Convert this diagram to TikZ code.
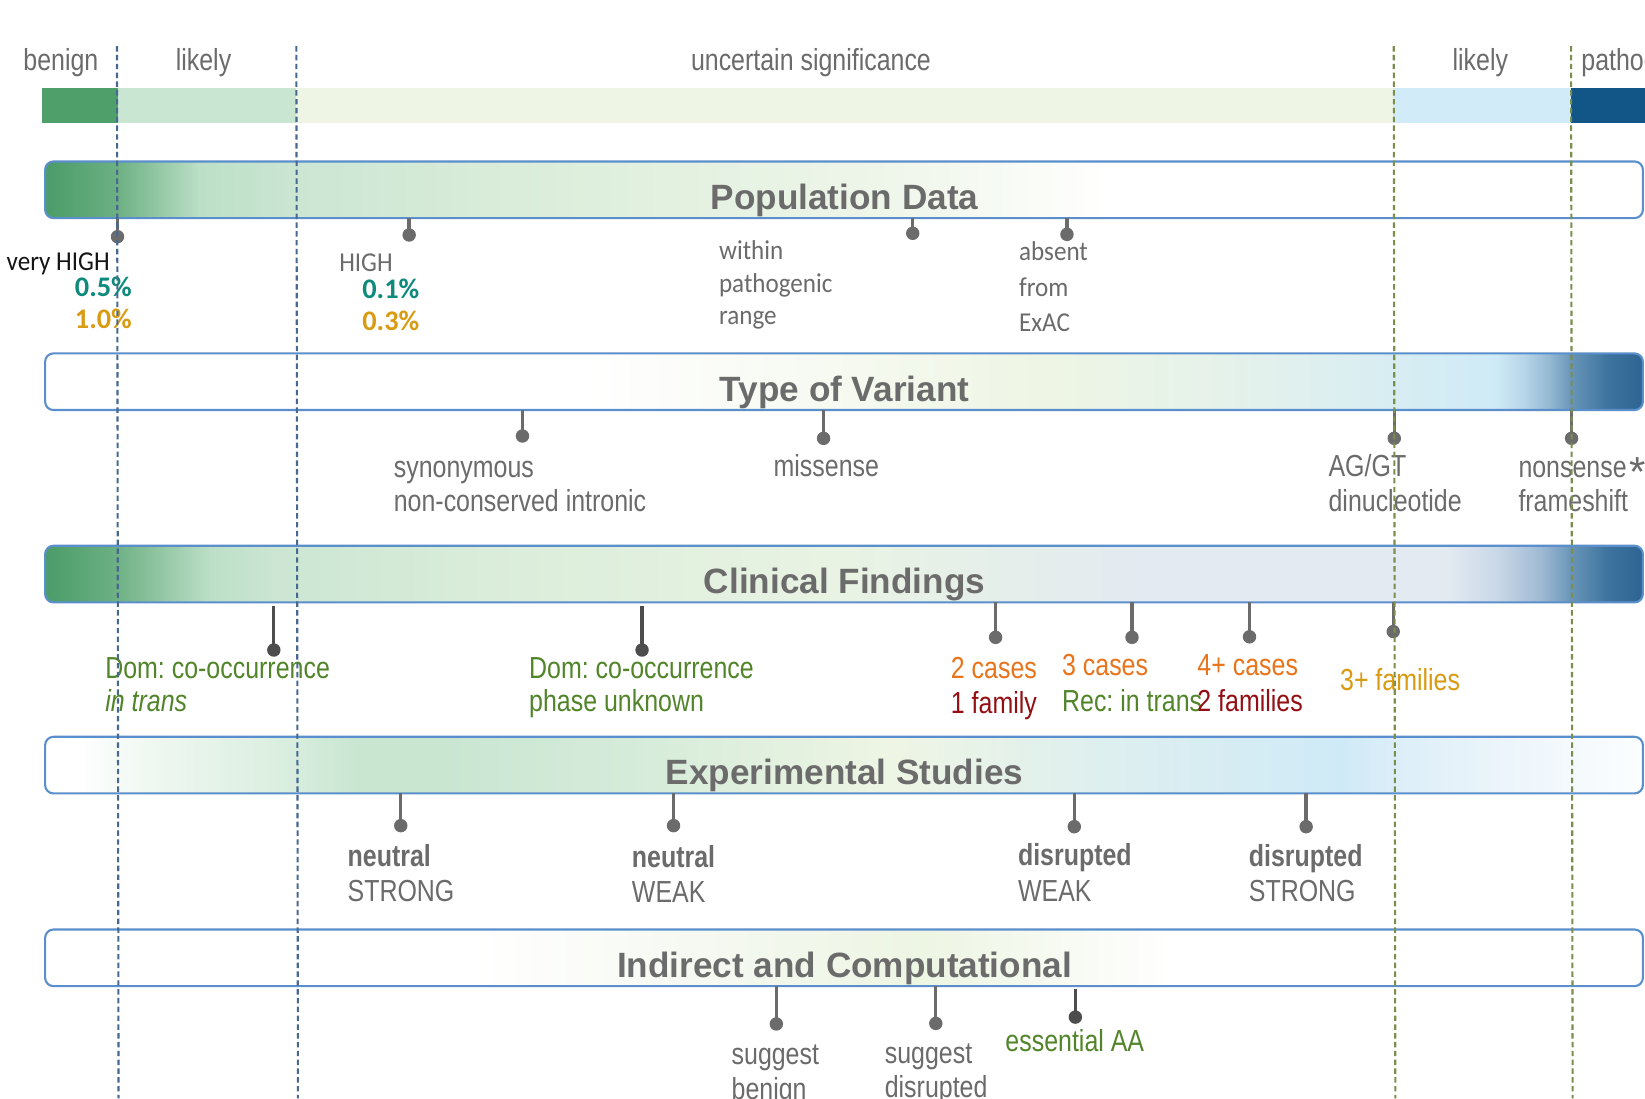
\documentclass[tikz,border=0pt]{standalone}
\usepackage{fontspec}
\setmainfont{Liberation Sans}
\newfontfamily\narrowf[FakeStretch=0.82]{Liberation Sans}
\newfontfamily\calf[FakeStretch=0.92]{Carlito}
\newfontfamily\calbf{Carlito}
\newfontfamily\ttlf{Liberation Sans}
\frenchspacing
\definecolor{txtgray}{HTML}{6B6B6B}
\definecolor{pingray}{HTML}{6B6B6B}
\definecolor{pindark}{HTML}{4D4D4D}
\definecolor{barblue}{HTML}{5B8FCC}
\definecolor{dashblue}{HTML}{47698F}
\definecolor{dashgreen}{HTML}{7A8F4E}
\definecolor{tealc}{HTML}{0D8A7B}
\definecolor{goldc}{HTML}{D89B12}
\definecolor{greenc}{HTML}{52852A}
\definecolor{orangec}{HTML}{E8741C}
\definecolor{redc}{HTML}{930F14}
% top bar
\definecolor{tbA}{HTML}{4E9F6A}
\definecolor{tbB}{HTML}{C8E6D1}
\definecolor{tbC}{HTML}{EEF5E5}
\definecolor{tbD}{HTML}{D1EBF8}
\definecolor{tbE}{HTML}{115687}
% gradient stops
\definecolor{gA}{HTML}{4A9C68}
\definecolor{gB}{HTML}{6CB083}
\definecolor{gC}{HTML}{BCDFC7}
\definecolor{gD}{HTML}{CBE6D3}
\definecolor{gE}{HTML}{DCEEDB}
\definecolor{gF}{HTML}{EFF6EA}
\definecolor{pg}{HTML}{EEF5E4}
\definecolor{tq}{HTML}{E3F1EC}
\definecolor{lb}{HTML}{CFEAF7}
\definecolor{bA}{HTML}{B4D3E6}
\definecolor{bB}{HTML}{8FB4D0}
\definecolor{bC}{HTML}{6A96B9}
\definecolor{bD}{HTML}{3F76A0}
\definecolor{bE}{HTML}{2A6190}
\definecolor{cA}{HTML}{E9F3E3}
\definecolor{cB}{HTML}{E4EDEC}
\definecolor{cC}{HTML}{E3EAF2}
\definecolor{cD}{HTML}{C7D6E6}
\definecolor{cE}{HTML}{9DB8D3}
\definecolor{eA}{HTML}{EEF7F0}
\definecolor{eB}{HTML}{DCEFE1}
\definecolor{eC}{HTML}{C9E6D1}
\definecolor{eD}{HTML}{D5EBD9}
\definecolor{eE}{HTML}{DEEFEF}
\definecolor{eF}{HTML}{DCEEF8}
\definecolor{eG}{HTML}{EEF6FB}
\definecolor{eH}{HTML}{FCFEFF}
\definecolor{iA}{HTML}{F4F8EF}
\definecolor{iB}{HTML}{EDF5E3}
\definecolor{iC}{HTML}{F6FAF1}

% gradient-filled rounded bar: y1, y2, list of stops
\newcommand\gradbar[3]{%
  \begin{scope}
    \clip[rounded corners=4pt] (43,#1) rectangle (1566,#2);
    \foreach \xa/\ca/\xb/\cb in {#3}{%
      \shade[left color=\ca, right color=\cb] (\xa-0.6,#1-2) rectangle (\xb+0.6,#2+2);}
  \end{scope}}
\newcommand\mypin[5]{%
  \coordinate (#1t) at (#2,#3);
  \node[pindot, fill=#5] (#1) at (#2,#4) {};
  \draw[line width=1.6pt, draw=#5] (#1t) -- (#1.center);}

\begin{document}
\begin{tikzpicture}[x=0.5pt,y=-0.5pt,
  lbl/.style={inner sep=0pt, anchor=base west, text=txtgray, font=\narrowf\fontsize{14.5}{17}\selectfont},
  cal/.style={inner sep=0pt, anchor=base west, text=txtgray, font=\calf\fontsize{13}{15}\selectfont},
  pct/.style={inner sep=0pt, anchor=base west, font=\calbf\bfseries\fontsize{13.5}{16}\selectfont},
  ttl/.style={inner sep=0pt, anchor=base, text=txtgray, font=\ttlf\bfseries\fontsize{16.75}{20}\selectfont},
  bar/.style={draw=barblue, line width=1pt, rounded corners=4pt, inner sep=0pt,
     minimum width=761.5pt, minimum height=27pt},
  pindot/.style={circle, inner sep=0pt, minimum size=6.4pt},
  divider/.style={line width=1pt, dash pattern=on 2.6pt off 1.6pt}]
\clip (0,0) rectangle (1568,1047);
\fill[white] (0,0) rectangle (1568,1047);

% ---- top classification bar
\fill[tbA] (40,84) rectangle (112,117);
\fill[tbB] (112,84) rectangle (282,117);
\fill[tbC] (282,84) rectangle (1328,117);
\fill[tbD] (1328,84) rectangle (1497,117);
\fill[tbE] (1497,84) rectangle (1568,117);
\node[lbl, anchor=base] (lBen) at (58,67) {benign};
\node[lbl, anchor=base] (lLik1) at (194,67) {likely};
\node[lbl, anchor=base] (lUnc) at (773,67) {uncertain significance};
\node[lbl, anchor=base] (lLik2) at (1411,67) {likely};
\node[lbl] (lPat) at (1507,67) {pathogenic};

% ---- bars
\gradbar{153.8}{208}{43/gA/112/gB, 112/gB/190/gC, 190/gC/282/gD, 282/gD/520/gE, 520/gE/850/gF, 850/gF/1060/white, 1060/white/1570/white}
\node[bar] (pop) at (804.5,180.9) {};
\node[ttl] (popT) at (805,200) {Population Data};

\gradbar{336.8}{390.9}{43/white/560/white, 560/white/1000/pg, 1000/pg/1200/tq, 1200/tq/1426/lb, 1426/lb/1455/bA, 1455/bA/1480/bB, 1480/bB/1497/bC, 1497/bC/1530/bD, 1530/bD/1570/bE}
\node[bar] (tov) at (804.5,363.85) {};
\node[ttl] (tovT) at (805,383) {Type of Variant};

\gradbar{520.2}{574.2}{43/gA/110/gB, 110/gB/200/gC, 200/gC/260/gD, 260/gD/500/gE, 500/gE/800/cA, 800/cA/1000/cB, 1000/cB/1100/cC, 1100/cC/1380/cC, 1380/cC/1430/cD, 1430/cD/1470/cE, 1470/cE/1497/bC, 1497/bC/1530/bD, 1530/bD/1570/bE}
\node[bar] (clin) at (804.5,547.2) {};
\node[ttl] (clinT) at (805,566) {Clinical Findings};

\gradbar{702.3}{756.3}{43/white/70/white, 70/white/150/eA, 150/eA/260/eB, 260/eB/340/eC, 340/eC/420/eC, 420/eC/600/eD, 600/eD/850/pg, 850/pg/1050/eE, 1050/eE/1280/lb, 1280/lb/1330/eF, 1330/eF/1450/eG, 1450/eG/1570/eH}
\node[bar] (exp) at (804.5,729.3) {};
\node[ttl] (expT) at (805,748) {Experimental Studies};

\gradbar{886}{940}{43/white/450/white, 450/white/700/iA, 700/iA/880/iB, 880/iB/1000/iC, 1000/iC/1120/white, 1120/white/1570/white}
\node[bar] (ind) at (804.5,913) {};
\node[ttl] (indT) at (805,932) {Indirect and Computational};

% ---- population data
\mypin{pp1}{112}{208}{225.6}{pingray}
\mypin{pp2}{390}{208}{224}{pingray}
\mypin{pp3}{870}{208}{222.4}{pingray}
\mypin{pp4}{1017}{208}{223.4}{pingray}
\node[cal, text=black!92] (vh) at (6,257.5) {very HIGH};
\node[pct, text=tealc] (v05) at (71,283) {0.5\%};
\node[pct, text=goldc] (v10) at (71,313) {1.0\%};
\node[cal] (hi) at (323,259) {HIGH};
\node[pct, text=tealc] (h01) at (345,285) {0.1\%};
\node[pct, text=goldc] (h03) at (345,315) {0.3\%};
\node[cal] (wi1) at (685,247) {within};
\node[cal] (wi2) at (685,279) {pathogenic};
\node[cal] (wi3) at (685,309) {range};
\node[cal] (ab1) at (971,248.5) {absent};
\node[cal] (ab2) at (971,283) {from};
\node[cal] (ab3) at (971,316) {ExAC};

% ---- type of variant
\mypin{tp1}{498}{391}{415.6}{pingray}
\mypin{tp2}{785}{391}{417.8}{pingray}
\mypin{tp3}{1329}{391}{417.8}{pingray}
\mypin{tp4}{1498}{391}{417.8}{pingray}
\node[lbl] (syn1) at (375,455) {synonymous};
\node[lbl] (syn2) at (375,488) {non-conserved intronic};
\node[lbl] (mis) at (737,454.5) {missense};
\node[lbl] (ag1) at (1266,454.5) {AG/GT};
\node[lbl] (ag2) at (1266,488) {dinucleotide};
\node[lbl] (ns1) at (1447,455) {nonsense};
\node[lbl] (ns2) at (1447,488) {frameshift};
\node[inner sep=0pt, anchor=base west, text=txtgray, font=\ttlf\fontsize{20}{24}\selectfont] (ast) at (1553,464) {*};

% ---- clinical findings
\mypin{cp1}{261}{578}{619.6}{pindark}
\mypin{cp2}{612}{578}{619.6}{pindark}
\mypin{cp3}{949}{574}{607.5}{pingray}
\mypin{cp4}{1079}{574}{607.5}{pingray}
\mypin{cp5}{1191}{574}{607}{pingray}
\mypin{cp6}{1328}{574}{602}{pingray}
\node[lbl, text=greenc] (dc1) at (100,646.5) {Dom: co-occurrence};
\node[lbl, text=greenc] (dc2) at (100,678.5) {\itshape in trans};
\node[lbl, text=greenc] (du1) at (504,646.5) {Dom: co-occurrence};
\node[lbl, text=greenc] (du2) at (504,678.5) {phase unknown};
\node[lbl, text=orangec] (c2a) at (906,646.5) {2 cases};
\node[lbl, text=redc] (c2b) at (906,680) {1 family};
\node[lbl, text=orangec] (c3a) at (1012,643.5) {3 cases};
\node[lbl, text=greenc] (c3b) at (1012,678.5) {Rec: in trans};
\node[lbl, text=orangec] (c4a) at (1141,643.5) {4+ cases};
\node[lbl, text=redc] (c4b) at (1141,678.5) {2 families};
\node[lbl, text=goldc] (c3f) at (1277,658) {3+ families};

% ---- experimental studies
\mypin{ep1}{382}{756}{787}{pingray}
\mypin{ep2}{642}{756}{787}{pingray}
\mypin{ep3}{1024}{756}{788}{pingray}
\mypin{ep4}{1245}{756}{788}{pingray}
\node[lbl, font=\narrowf\bfseries\fontsize{14.5}{17}\selectfont] (n1a) at (331,826) {neutral};
\node[lbl] (n1b) at (331,859.6) {STRONG};
\node[lbl, font=\narrowf\bfseries\fontsize{14.5}{17}\selectfont] (n2a) at (602,826.5) {neutral};
\node[lbl] (n2b) at (602,860) {WEAK};
\node[lbl, font=\narrowf\bfseries\fontsize{14.5}{17}\selectfont] (d1a) at (970,825) {disrupted};
\node[lbl] (d1b) at (970,859.6) {WEAK};
\node[lbl, font=\narrowf\bfseries\fontsize{14.5}{17}\selectfont] (d2a) at (1190,826) {disrupted};
\node[lbl] (d2b) at (1190,859.6) {STRONG};

% ---- indirect and computational
\mypin{ip1}{740}{940}{976}{pingray}
\mypin{ip2}{892}{940}{975.5}{pingray}
\mypin{ip3}{1025}{943}{969.5}{pindark}
\node[lbl] (s1a) at (697,1015) {suggest};
\node[lbl] (s1b) at (697,1048) {benign};
\node[lbl] (s2a) at (843,1013.5) {suggest};
\node[lbl] (s2b) at (843,1046) {disrupted};
\node[lbl, text=greenc] (ess) at (958,1002.6) {essential AA};

% ---- dashed dividers
\coordinate (dv1a) at (111.5,44); \coordinate (dv1b) at (113,1047);
\coordinate (dv2a) at (282.5,44); \coordinate (dv2b) at (284,1047);
\coordinate (dv3a) at (1328.5,44); \coordinate (dv3b) at (1330,1047);
\coordinate (dv4a) at (1497.5,44); \coordinate (dv4b) at (1499,1047);
\draw[divider, draw=dashblue] (dv1a) -- (dv1b);
\draw[divider, draw=dashblue] (dv2a) -- (dv2b);
\draw[divider, draw=dashgreen] (dv3a) -- (dv3b);
\draw[divider, draw=dashgreen] (dv4a) -- (dv4b);
\end{tikzpicture}
\end{document}
